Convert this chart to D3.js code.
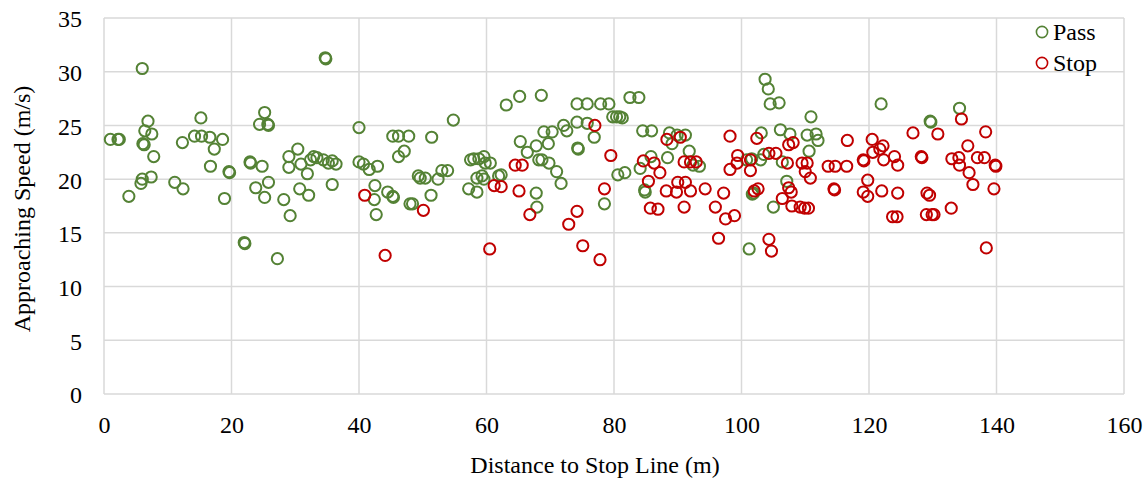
<!DOCTYPE html>
<html>
<head>
<meta charset="utf-8">
<script src="https://cdn.jsdelivr.net/npm/d3@7"></script>
<style>
  body { margin: 0; background: #fff; }
</style>
</head>
<body>
<script>
// Pass vehicles: [distance to stop line (m), approaching speed (m/s)]
var passPoints = [
  [1.0,23.7],[2.2,23.7],[2.4,23.7],[3.9,18.4],[6.0,30.3],[6.9,25.4],[6.4,24.5],[7.5,24.2],[6.1,23.3],[6.3,23.2],
  [7.8,22.1],[6.0,20.0],[5.8,19.6],[7.4,20.2],[11.1,19.7],[12.4,19.1],[12.3,23.4],[14.2,24.0],[15.2,25.7],[15.3,24.0],
  [16.6,23.9],[17.3,22.8],[18.6,23.7],[16.7,21.2],[19.6,20.7],[19.7,20.6],[18.9,18.2],[22.0,14.1],[22.1,14.0],[27.2,12.6],
  [29.2,16.6],[28.2,18.1],[25.2,18.3],[23.8,19.2],[25.8,19.7],[22.9,21.6],[23.0,21.5],[24.8,21.2],[25.2,26.2],[24.4,25.1],
  [25.7,25.1],[25.8,25.0],[34.7,31.3],[34.8,31.2],[29.0,22.1],[29.0,21.1],[30.4,22.8],[30.7,19.1],[32.1,18.5],[30.9,21.4],
  [31.9,20.5],[32.4,21.8],[32.9,22.1],[33.4,22.0],[34.4,21.8],[35.2,21.5],[35.8,21.7],[36.4,21.4],[35.8,19.5],
  [40.0,24.8],[40.0,21.6],[40.7,21.4],[41.6,20.9],[42.9,21.2],[42.5,19.4],[42.4,18.1],[42.7,16.7],[44.5,18.8],[45.3,18.4],
  [45.4,18.3],[45.3,24.0],[46.2,24.0],[47.8,24.0],[46.2,22.1],[47.1,22.6],[51.4,23.9],[48.0,17.7],[48.4,17.7],[49.3,20.3],
  [49.6,20.1],[50.4,20.1],[51.3,18.5],[52.4,20.0],[53.0,20.8],[53.9,20.8],[54.8,25.5],[57.5,21.8],[58.0,21.9],[58.8,21.9],
  [59.6,22.1],[59.8,21.5],[60.6,21.5],[58.5,20.1],[59.3,20.3],[59.6,20.0],[57.2,19.1],[58.5,18.8],[61.9,20.3],[62.3,20.4],
  [63.1,26.9],[65.2,27.7],[68.6,27.8],[65.3,23.5],[66.4,22.5],[67.8,23.1],[68.2,21.8],[68.7,21.8],[69.8,21.5],[69.7,23.3],
  [69.0,24.4],[70.3,24.4],[71.0,20.7],[71.7,19.6],[72.1,25.0],[72.6,24.5],[67.8,18.7],[67.9,17.4],[74.2,27.0],[75.8,27.0],
  [77.9,27.0],[79.2,27.0],[74.3,22.9],[74.4,22.8],[74.2,25.3],[75.8,25.2],[76.9,23.9],[78.5,17.7],
  [79.8,25.8],[80.4,25.8],[80.9,25.8],[81.3,25.7],[82.5,27.6],[83.9,27.6],[84.5,24.5],[85.9,24.5],[80.6,20.4],[81.7,20.6],
  [84.8,19.0],[84.9,18.8],[85.8,22.1],[88.4,22.0],[88.7,24.3],[89.9,24.1],[91.2,24.1],[89.1,23.3],[91.8,22.6],[92.4,21.3],
  [93.4,21.2],[84.1,21.0],[103.7,29.3],[104.2,28.4],[104.5,27.0],[105.9,27.1],[103.1,24.3],[106.1,24.6],[107.6,24.2],[110.9,25.8],
  [110.3,24.1],[111.7,24.2],[112.0,23.6],[110.6,22.6],[103.5,22.3],[103.0,21.8],[100.8,21.8],[101.6,21.9],[106.4,21.6],[107.1,19.8],
  [101.7,18.6],[101.9,18.7],[105.0,17.4],[101.2,13.5],[121.9,27.0],[129.6,25.4],[129.7,25.3],[134.2,26.6]
];

// Stop vehicles
var stopPoints = [
  [40.9,18.5],[44.1,12.9],[50.1,17.1],[60.5,13.5],[61.2,19.4],[62.3,19.3],[64.5,21.3],[65.6,21.3],[65.1,18.9],[66.8,16.7],
  [72.9,15.8],[74.2,17.0],[75.1,13.8],[77.8,12.5],[77.0,25.0],[79.5,22.2],[78.5,19.1],
  [88.3,23.7],[90.4,23.9],[84.6,21.7],[86.3,21.5],[87.2,20.6],[85.4,19.8],[91.0,21.6],[92.0,21.6],[92.9,21.6],[88.2,18.9],
  [89.8,18.8],[90.0,19.7],[91.2,19.7],[92.0,18.9],[85.7,17.3],[86.9,17.2],[91.0,17.4],[94.3,19.1],[95.9,17.4],[97.2,18.7],
  [97.5,16.3],[98.9,16.6],[96.4,14.5],[98.2,24.0],[98.2,20.9],[99.3,21.5],[99.4,22.2],[101.4,21.8],[101.4,20.8],[102.4,23.8],
  [102.0,18.9],[102.6,19.1],[104.3,14.4],[104.7,13.3],[104.3,22.4],[105.4,22.4],
  [107.2,21.5],[107.4,23.2],[108.1,23.4],[109.5,21.5],[110.3,21.5],[110.0,20.7],[110.8,20.1],[107.4,19.2],[107.8,18.8],[106.4,18.2],
  [107.9,17.5],[109.2,17.4],[109.9,17.3],[110.5,17.3],[113.6,21.2],[114.7,21.2],[116.5,21.2],[114.5,19.1],[114.6,19.0],[116.6,23.6],
  [119.1,21.8],[119.2,21.7],[119.1,18.8],[119.8,19.9],[119.8,18.4],[120.5,23.7],[120.6,22.5],[121.7,22.8],[122.2,23.1],[122.3,21.8],
  [122.0,18.9],[124.0,22.1],[124.5,21.3],[123.7,16.5],[124.4,16.5],[124.5,18.7],
  [126.9,24.3],[128.2,22.1],[128.3,22.0],[129.1,18.7],[129.5,18.5],[129.0,16.7],[129.9,16.7],[130.2,16.7],[130.8,24.2],[132.9,17.3],
  [133.0,21.9],[134.1,22.0],[134.2,21.3],[134.5,25.6],[135.5,23.1],[135.7,20.6],[136.3,19.5],[137.0,22.0],[138.1,22.0],[138.3,24.4],
  [139.8,21.3],[139.9,21.2],[139.6,19.1],[138.4,13.6]
];

var xTicks = [0, 20, 40, 60, 80, 100, 120, 140, 160];
var yTicks = [0, 5, 10, 15, 20, 25, 30, 35];
var seriesNames = ["Pass", "Stop"];
var seriesColors = ["#548235", "#C00000"];

var serif = "'Liberation Serif', 'Times New Roman'";

var W = 1148, H = 480;
var margin = {top: 18, right: 24, bottom: 86, left: 104};
var width = W - margin.left - margin.right,
    height = H - margin.top - margin.bottom;

var x = d3.scaleLinear().domain([0, 160]).range([0, width]);
var y = d3.scaleLinear().domain([0, 35]).range([height, 0]);

var svg = d3.select("body").append("svg")
    .attr("width", W)
    .attr("height", H)
    .style("font-family", serif);

var g = svg.append("g")
    .attr("transform", "translate(" + margin.left + "," + margin.top + ")");

// gridlines
g.selectAll(".vgrid")
    .data(xTicks)
    .enter().append("line")
    .attr("x1", d => x(d)).attr("x2", d => x(d))
    .attr("y1", 0).attr("y2", height)
    .style("stroke", "#d9d9d9").style("stroke-width", 1.5);

g.selectAll(".hgrid")
    .data(yTicks)
    .enter().append("line")
    .attr("x1", 0).attr("x2", width)
    .attr("y1", d => y(d)).attr("y2", d => y(d))
    .style("stroke", "#d9d9d9").style("stroke-width", 1.5);

// x axis labels
g.append("g")
    .attr("transform", "translate(0," + height + ")")
    .call(d3.axisBottom(x).tickValues(xTicks).tickSize(0).tickPadding(22))
    .call(a => a.select(".domain").remove())
    .selectAll("text")
    .style("font-size", "24px")
    .style("font-family", serif)
    .style("fill", "#000");

// y axis labels
g.append("g")
    .call(d3.axisLeft(y).tickValues(yTicks).tickSize(0).tickPadding(22))
    .call(a => a.select(".domain").remove())
    .selectAll("text")
    .attr("dy", "0.37em")
    .style("font-size", "24px")
    .style("font-family", serif)
    .style("fill", "#000");

// points: Pass first, Stop drawn on top
[passPoints, stopPoints].forEach(function(pts, i) {
    g.append("g").selectAll("circle")
        .data(pts)
        .enter().append("circle")
        .attr("cx", d => x(d[0]))
        .attr("cy", d => y(d[1]))
        .attr("r", 5.6)
        .style("fill", "none")
        .style("stroke", seriesColors[i])
        .style("stroke-width", 2);
});

// axis titles
svg.append("text")
    .attr("x", 595)
    .attr("y", 473)
    .style("text-anchor", "middle")
    .style("font-size", "24px")
    .style("font-family", serif)
    .text("Distance to Stop Line (m)");

svg.append("text")
    .attr("transform", "translate(30,209) rotate(-90)")
    .style("text-anchor", "middle")
    .style("font-size", "24px")
    .style("font-family", serif)
    .text("Approaching Speed (m/s)");

// legend
var legend = svg.append("g");
seriesNames.forEach(function(name, i) {
    var ly = 32 + i * 31;
    legend.append("circle")
        .attr("cx", 1042).attr("cy", ly).attr("r", 5.6)
        .style("fill", "none")
        .style("stroke", seriesColors[i])
        .style("stroke-width", 1.6);
    legend.append("text")
        .attr("x", 1053).attr("y", ly + 8)
        .style("font-size", "24px")
        .style("font-family", serif)
        .text(name);
});
</script>
</body>
</html>
